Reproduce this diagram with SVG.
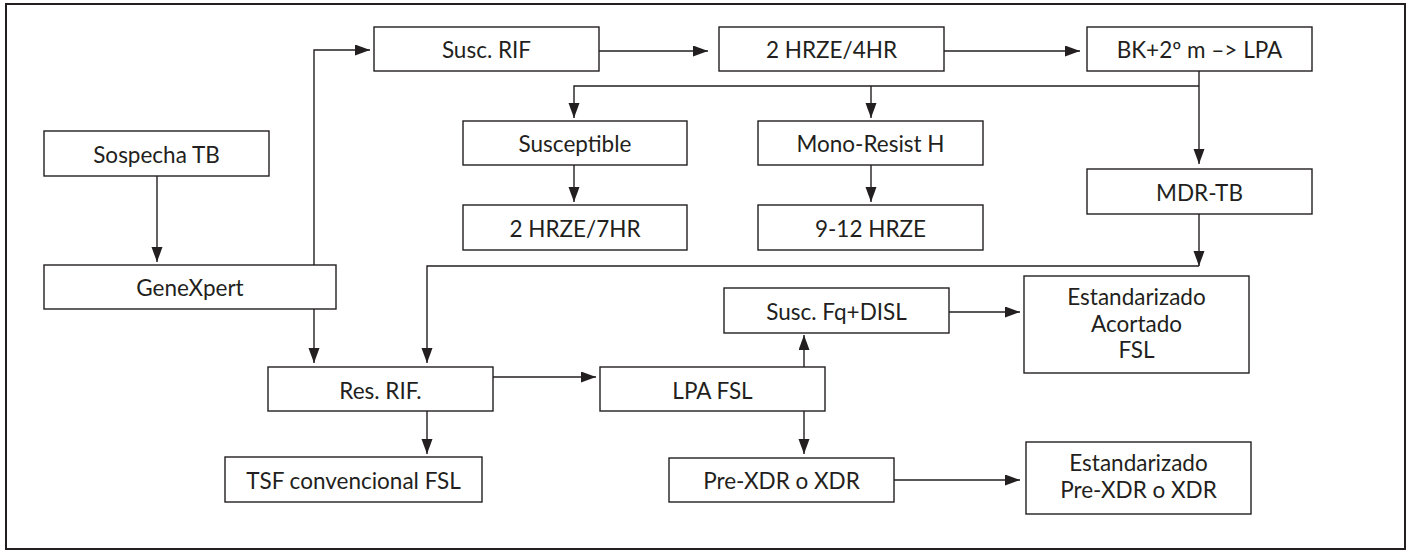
<svg xmlns="http://www.w3.org/2000/svg" width="1410" height="551" viewBox="0 0 1410 551">
<style>
.box{fill:#fff;stroke:#231f20;stroke-width:1.4}
.t{font-family:Lato,"Open Sans",sans-serif;font-size:22.5px;fill:#231f20;text-anchor:middle}
.c{fill:none;stroke:#231f20;stroke-width:1.4}
</style>
<defs>
<marker id="ah" markerUnits="userSpaceOnUse" markerWidth="15" markerHeight="12" refX="15" refY="5.5" orient="auto">
<path d="M0,0 L15,5.5 L0,11 z" fill="#231f20"/>
</marker>
</defs>
<rect x="0" y="0" width="1410" height="551" fill="#fff"/>
<rect x="6" y="4" width="1399" height="545" fill="none" stroke="#231f20" stroke-width="2"/>
<g id="connectors">
<path class="c" d="M157,176 V262" marker-end="url(#ah)"/>
<path class="c" d="M314,265 V50 H370" marker-end="url(#ah)"/>
<path class="c" d="M599,51 H708" marker-end="url(#ah)"/>
<path class="c" d="M944,51 H1080" marker-end="url(#ah)"/>
<path class="c" d="M1199,71 V164" marker-end="url(#ah)"/>
<path class="c" d="M1199,86 H574 V118" marker-end="url(#ah)"/>
<path class="c" d="M871,86 V118" marker-end="url(#ah)"/>
<path class="c" d="M574,165 V202" marker-end="url(#ah)"/>
<path class="c" d="M871,165 V202" marker-end="url(#ah)"/>
<path class="c" d="M1199,214 V266" marker-end="url(#ah)"/>
<path class="c" d="M1199,266 H427 V363" marker-end="url(#ah)"/>
<path class="c" d="M314,309 V363" marker-end="url(#ah)"/>
<path class="c" d="M427,411 V454" marker-end="url(#ah)"/>
<path class="c" d="M493,377 H596" marker-end="url(#ah)"/>
<path class="c" d="M804,367 V335" marker-end="url(#ah)"/>
<path class="c" d="M804,411 V454" marker-end="url(#ah)"/>
<path class="c" d="M949,312 H1020" marker-end="url(#ah)"/>
<path class="c" d="M894,480 H1020" marker-end="url(#ah)"/>
</g>
<g id="sospecha"><rect class="box" x="44" y="131" width="225" height="45"/><text class="t" x="156.5" y="163">Sospecha TB</text></g>
<g id="genexpert"><rect class="box" x="44" y="265" width="292" height="44"/><text class="t" x="190" y="296">GeneXpert</text></g>
<g id="suscrif"><rect class="box" x="374" y="27" width="225" height="44"/><text class="t" x="486.5" y="58">Susc. RIF</text></g>
<g id="hrze4hr"><rect class="box" x="719" y="27" width="225" height="44"/><text class="t" x="831.5" y="58">2 HRZE/4HR</text></g>
<g id="bk"><rect class="box" x="1087" y="27" width="225" height="44"/><text class="t" x="1199.5" y="58">BK+2º m –&gt; LPA</text></g>
<g id="susceptible"><rect class="box" x="463" y="121" width="224" height="44"/><text class="t" x="575" y="152">Susceptible</text></g>
<g id="monoresist"><rect class="box" x="758" y="121" width="225" height="44"/><text class="t" x="870.5" y="152">Mono-Resist H</text></g>
<g id="hrze7hr"><rect class="box" x="463" y="205" width="224" height="45"/><text class="t" x="575" y="236.5">2 HRZE/7HR</text></g>
<g id="hrze912"><rect class="box" x="758" y="205" width="225" height="45"/><text class="t" x="870.5" y="236.5">9-12 HRZE</text></g>
<g id="mdrtb"><rect class="box" x="1087" y="169" width="225" height="45"/><text class="t" x="1199.5" y="200.5">MDR-TB</text></g>
<g id="resrif"><rect class="box" x="268" y="367" width="225" height="44"/><text class="t" x="380.5" y="398.5">Res. RIF.</text></g>
<g id="tsf"><rect class="box" x="225" y="457" width="257" height="45"/><text class="t" x="353.5" y="488.5">TSF convencional FSL</text></g>
<g id="lpafsl"><rect class="box" x="600" y="367" width="225" height="44"/><text class="t" x="712.5" y="398.5">LPA FSL</text></g>
<g id="suscfq"><rect class="box" x="724" y="288" width="225" height="45"/><text class="t" x="836.5" y="319.5">Susc. Fq+DISL</text></g>
<g id="prexdr"><rect class="box" x="669" y="458" width="225" height="44"/><text class="t" x="781.5" y="489">Pre-XDR o XDR</text></g>
<g id="estacortado"><rect class="box" x="1024" y="276" width="225" height="97"/><text class="t" x="1136.5" y="305">Estandarizado</text><text class="t" x="1136.5" y="331.5">Acortado</text><text class="t" x="1136.5" y="358">FSL</text></g>
<g id="estprexdr"><rect class="box" x="1026" y="442" width="225" height="72"/><text class="t" x="1138.5" y="471">Estandarizado</text><text class="t" x="1138.5" y="497.5">Pre-XDR o XDR</text></g>
</svg>
